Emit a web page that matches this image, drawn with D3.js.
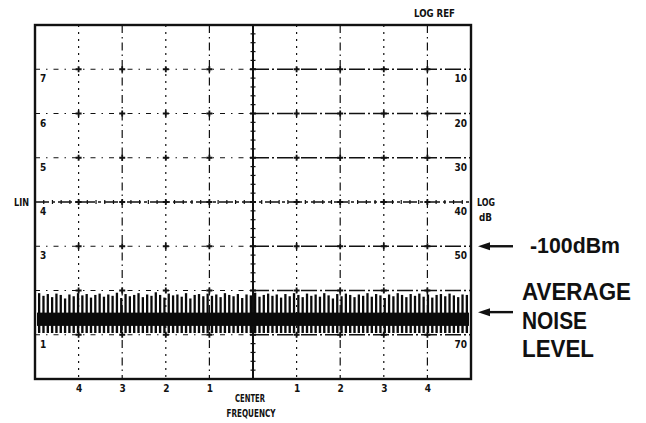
<!DOCTYPE html>
<html>
<head>
<meta charset="utf-8">
<script src="https://cdn.jsdelivr.net/npm/d3@7"></script>
<style>
  body { margin: 0; background: #fff; }
  svg { display: block; }
  .lbl { font-family: 'DejaVu Sans Condensed', 'Liberation Sans Narrow', sans-serif; font-weight: bold; fill: #111; }
  .big { font-family: 'Liberation Sans', Arial, sans-serif; font-weight: bold; fill: #111; }
</style>
</head>
<body>
<div id="chart"></div>
<script>
// Divisions along the frequency axis (center = 0)
var freqTicks = [-4, -3, -2, -1, 1, 2, 3, 4]
// Log scale labels (dB below reference) and linear scale labels
var logLabels = [10, 20, 30, 40, 50, 70]
var linLabels = [7, 6, 5, 4, 3, 1]
var dbLines = [10, 20, 30, 50, 60, 70]

// Noise trace: peak of each noise spike (dB below ref)
var noisePeaks = [
  60.6, 61.2, 60.8, 61.5, 60.7, 61.0, 61.8, 60.9, 61.3, 60.6,
  61.1, 60.8, 61.6, 61.0, 60.7, 61.4, 60.9, 61.2, 60.5, 61.7,
  60.8, 61.3, 61.0, 60.6, 61.5, 60.9, 61.2, 60.4, 61.0, 61.6,
  60.7, 61.1, 60.9, 61.4, 60.6, 61.8, 61.0, 60.8, 61.3, 60.7,
  61.2, 60.9, 61.5, 60.6, 61.0, 61.3, 60.8, 61.7, 60.9, 61.1,
  60.5, 61.4, 61.0, 60.7, 61.2, 60.9, 61.6, 60.8, 61.3, 60.6,
  61.0, 61.5, 60.7, 61.2, 60.9, 61.4, 60.6, 61.1, 61.8, 60.8,
  61.3, 60.7, 61.0, 61.5, 60.9, 61.2, 60.6, 61.4, 60.8, 61.1,
  61.7, 60.9, 61.3, 60.6, 61.0, 61.5, 60.8, 61.2, 60.7, 61.4,
  60.9, 61.6, 61.0, 60.8, 61.3, 60.7, 61.1, 61.5, 60.9, 61.0
]
// solid part of the noise band and the floor of the small ticks (dB)
var noiseSolid = [65.0, 68.0]
var noiseFloor = 69.6
var refLevelDb = 50   // -100 dBm line
var noiseLevelDb = 65

var width = 646
var height = 423

var svg = d3.select('#chart').append('svg')
  .attr('width', width)
  .attr('height', height)

var xPositionScale = d3.scaleLinear().domain([-5, 5]).range([35, 471])
var yPositionScale = d3.scaleLinear().domain([0, 80]).range([25, 379])
var linToDb = function(v) { return (8 - v) * 10 }

var grid = svg.append('g')

// vertical grid lines
grid.selectAll('.vline')
  .data(freqTicks)
  .enter().append('line')
  .attr('x1', d => xPositionScale(d))
  .attr('x2', d => xPositionScale(d))
  .attr('y1', yPositionScale(0))
  .attr('y2', yPositionScale(80))
  .attr('stroke', '#111')
  .attr('stroke-width', 1.2)
  .attr('stroke-dasharray', (d, i) => i % 2 ? '8,4,1.5,4' : '2,5')

// horizontal grid lines, left and right halves
grid.selectAll('.hline-l')
  .data(dbLines)
  .enter().append('line')
  .attr('x1', xPositionScale(-5))
  .attr('x2', xPositionScale(0))
  .attr('y1', d => yPositionScale(d))
  .attr('y2', d => yPositionScale(d))
  .attr('stroke', '#111')
  .attr('stroke-width', 1.2)
  .attr('stroke-dasharray', '5,6,1.5,6')

grid.selectAll('.hline-r')
  .data(dbLines)
  .enter().append('line')
  .attr('x1', xPositionScale(0))
  .attr('x2', xPositionScale(5))
  .attr('y1', d => yPositionScale(d))
  .attr('y2', d => yPositionScale(d))
  .attr('stroke', '#111')
  .attr('stroke-width', 1.4)
  .attr('stroke-dasharray', '16,3,2,3')

// center cross lines
grid.append('line')
  .attr('x1', xPositionScale(0)).attr('x2', xPositionScale(0))
  .attr('y1', yPositionScale(0)).attr('y2', yPositionScale(80))
  .attr('stroke', '#111').attr('stroke-width', 2)
grid.append('line')
  .attr('x1', xPositionScale(-5)).attr('x2', xPositionScale(5))
  .attr('y1', yPositionScale(40)).attr('y2', yPositionScale(40))
  .attr('stroke', '#111').attr('stroke-width', 1.5)
  .attr('stroke-dasharray', '14,3,3,3')

// minor ticks on the center lines
var minorX = d3.range(-5, 5.01, 0.2)
var minorY = d3.range(0, 80.01, 2)
grid.selectAll('.mx')
  .data(minorX)
  .enter().append('line')
  .attr('x1', d => xPositionScale(d)).attr('x2', d => xPositionScale(d))
  .attr('y1', yPositionScale(40) - 2).attr('y2', yPositionScale(40) + 2)
  .attr('stroke', '#111').attr('stroke-width', 1.2)
grid.selectAll('.my')
  .data(minorY)
  .enter().append('line')
  .attr('x1', xPositionScale(0) - 2.5).attr('x2', xPositionScale(0) + 2.5)
  .attr('y1', d => yPositionScale(d)).attr('y2', d => yPositionScale(d))
  .attr('stroke', '#111').attr('stroke-width', 1.2)

// small crosses at the intersections
var crossings = []
freqTicks.concat([0]).forEach(function(f) {
  dbLines.concat([40]).forEach(function(db) { crossings.push([f, db]) })
})
grid.selectAll('.cross')
  .data(crossings)
  .enter().append('path')
  .attr('d', function(d) {
    var x = xPositionScale(d[0])
    var y = yPositionScale(d[1])
    return 'M' + (x - 3) + ',' + y + 'H' + (x + 3) + 'M' + x + ',' + (y - 3) + 'V' + (y + 3)
  })
  .attr('stroke', '#111')
  .attr('stroke-width', 1.8)

// noise band: tall spikes, solid core, short ticks underneath
var noise = svg.append('g')
var step = (xPositionScale(5) - xPositionScale(-5) - 4) / noisePeaks.length
var x0 = xPositionScale(-5) + 2
var spikeX = (d, i) => x0 + i * step + step * 0.5

noise.selectAll('.spike')
  .data(noisePeaks)
  .enter().append('line')
  .attr('x1', spikeX)
  .attr('x2', spikeX)
  .attr('y1', d => yPositionScale(d))
  .attr('y2', yPositionScale(noiseSolid[0]) + 1)
  .attr('stroke', '#0a0a0a')
  .attr('stroke-width', 2.3)

noise.append('rect')
  .attr('x', x0)
  .attr('width', xPositionScale(5) - 2 - x0)
  .attr('y', yPositionScale(noiseSolid[0]))
  .attr('height', yPositionScale(noiseSolid[1]) - yPositionScale(noiseSolid[0]))
  .attr('fill', '#0a0a0a')

noise.selectAll('.tick-low')
  .data(noisePeaks)
  .enter().append('line')
  .attr('x1', spikeX)
  .attr('x2', spikeX)
  .attr('y1', yPositionScale(noiseSolid[1]) - 1)
  .attr('y2', yPositionScale(noiseFloor))
  .attr('stroke', '#0a0a0a')
  .attr('stroke-width', 2.4)

// outer frame
svg.append('rect')
  .attr('x', xPositionScale(-5))
  .attr('y', yPositionScale(0))
  .attr('width', xPositionScale(5) - xPositionScale(-5))
  .attr('height', yPositionScale(80) - yPositionScale(0))
  .attr('fill', 'none')
  .attr('stroke', '#111')
  .attr('stroke-width', 2.4)

// scale labels inside the frame
svg.selectAll('.lin-label')
  .data(linLabels)
  .enter().append('text')
  .attr('class', 'lbl')
  .attr('x', xPositionScale(-5) + 5)
  .attr('y', d => yPositionScale(linToDb(d)) + 13)
  .attr('font-size', 10)
  .text(d => d)

svg.selectAll('.log-label')
  .data(logLabels)
  .enter().append('text')
  .attr('class', 'lbl')
  .attr('x', xPositionScale(5) - 4)
  .attr('y', d => yPositionScale(d) + 13)
  .attr('text-anchor', 'end')
  .attr('font-size', 10)
  .text(d => d)

// frequency axis labels
var xAxis = d3.axisBottom(xPositionScale)
  .tickValues(freqTicks)
  .tickSize(0)
  .tickPadding(6)
  .tickFormat(d => Math.abs(d))
var xg = svg.append('g')
  .attr('transform', 'translate(0,' + yPositionScale(80) + ')')
  .call(xAxis)
xg.select('.domain').remove()
xg.selectAll('text')
  .attr('class', 'lbl')
  .attr('font-size', 10)
  .attr('dy', '0.71em')

svg.append('text').attr('class', 'lbl')
  .attr('x', xPositionScale(0) - 3).attr('y', 402)
  .attr('text-anchor', 'middle').attr('font-size', 11)
  .attr('textLength', 30).attr('lengthAdjust', 'spacingAndGlyphs')
  .text('CENTER')
svg.append('text').attr('class', 'lbl')
  .attr('x', xPositionScale(0) - 2).attr('y', 417)
  .attr('text-anchor', 'middle').attr('font-size', 11)
  .attr('textLength', 49).attr('lengthAdjust', 'spacingAndGlyphs')
  .text('FREQUENCY')

svg.append('text').attr('class', 'lbl')
  .attr('x', 414).attr('y', 17).attr('font-size', 11)
  .attr('textLength', 41).attr('lengthAdjust', 'spacingAndGlyphs')
  .text('LOG REF')
svg.append('text').attr('class', 'lbl')
  .attr('x', 14).attr('y', 206).attr('font-size', 11)
  .attr('textLength', 15).attr('lengthAdjust', 'spacingAndGlyphs')
  .text('LIN')
svg.append('text').attr('class', 'lbl')
  .attr('x', 477).attr('y', 206).attr('font-size', 11)
  .attr('textLength', 18).attr('lengthAdjust', 'spacingAndGlyphs')
  .text('LOG')
svg.append('text').attr('class', 'lbl')
  .attr('x', 479).attr('y', 221).attr('font-size', 11)
  .attr('textLength', 13).attr('lengthAdjust', 'spacingAndGlyphs')
  .text('dB')

// annotations with arrows
var arrows = [yPositionScale(refLevelDb), yPositionScale(noiseLevelDb) - 0.5]
svg.selectAll('.arrow')
  .data(arrows)
  .enter().append('path')
  .attr('d', d => 'M485,' + d + 'H513')
  .attr('stroke', '#111')
  .attr('stroke-width', 2.4)
svg.selectAll('.arrowhead')
  .data(arrows)
  .enter().append('path')
  .attr('d', d => 'M478,' + d + 'L490,' + (d - 4) + 'L490,' + (d + 4) + 'Z')
  .attr('fill', '#111')

svg.append('text').attr('class', 'big')
  .attr('x', 530).attr('y', 253).attr('font-size', 22)
  .attr('textLength', 90).attr('lengthAdjust', 'spacingAndGlyphs')
  .text('-100dBm')
var noiseText = ['AVERAGE', 'NOISE', 'LEVEL']
var noiseLens = [109, 65, 72]
svg.selectAll('.nl')
  .data(noiseText)
  .enter().append('text')
  .attr('class', 'big')
  .attr('x', 522)
  .attr('y', (d, i) => 300 + i * 28.5)
  .attr('font-size', 24)
  .attr('textLength', (d, i) => noiseLens[i])
  .attr('lengthAdjust', 'spacingAndGlyphs')
  .text(d => d)
</script>
</body>
</html>
